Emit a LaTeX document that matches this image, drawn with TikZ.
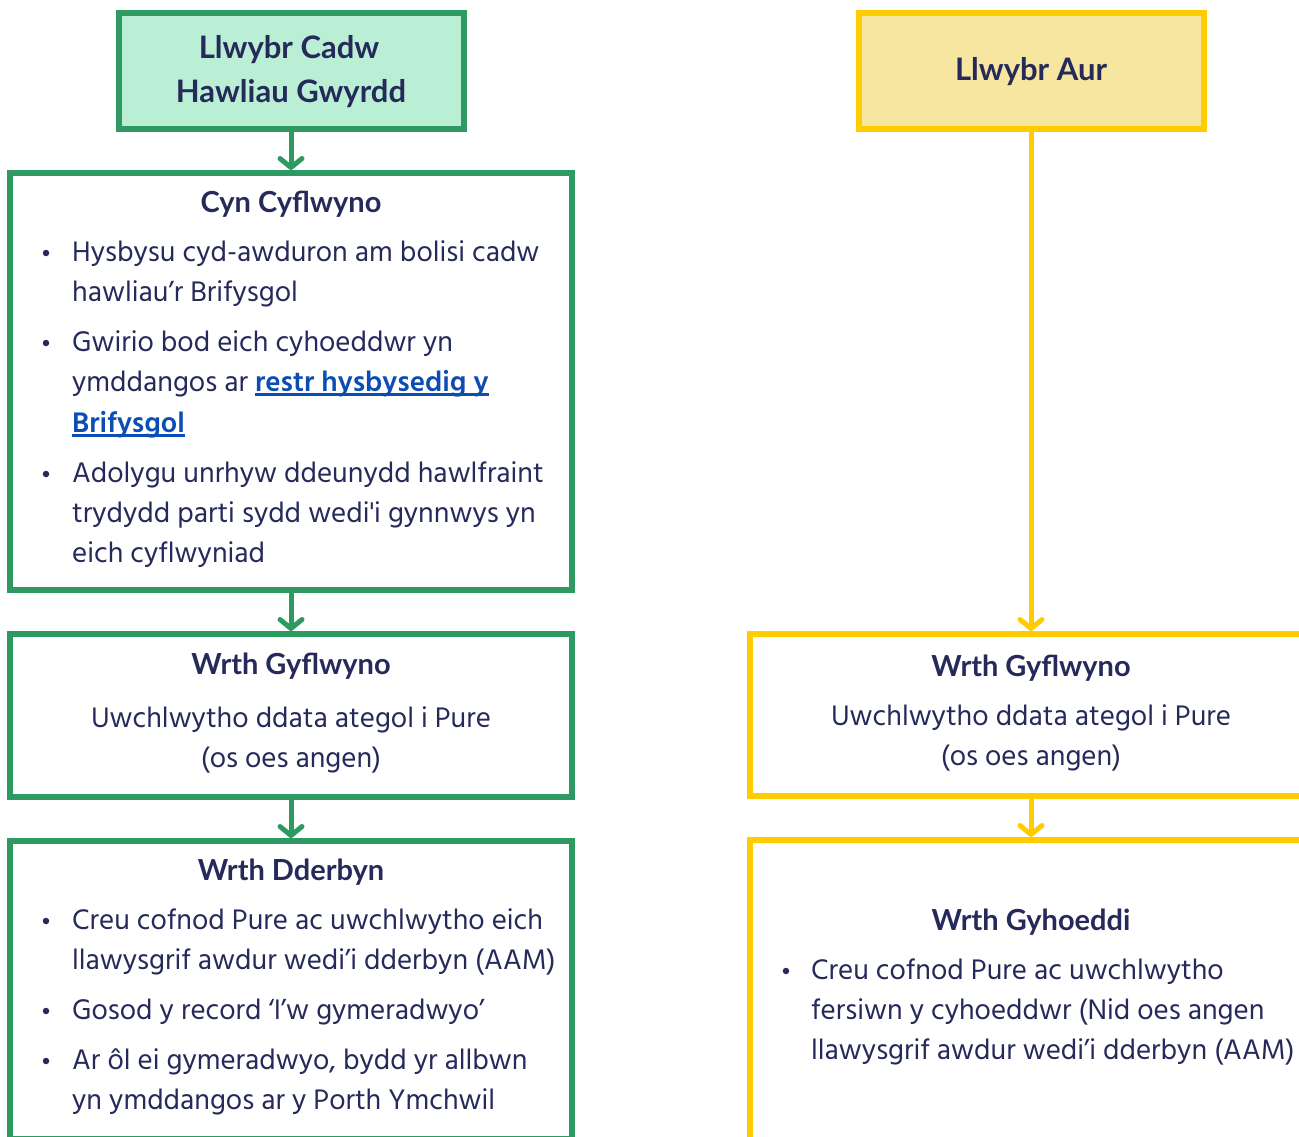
\documentclass[tikz,border=0pt]{standalone}
\usepackage{fontspec}
\newfontfamily\bodyfont{Hind Madurai}
\newfontfamily\headfont{Lato}
\usetikzlibrary{arrows.meta}
\definecolor{gborder}{HTML}{2E9960}
\definecolor{gfill}{HTML}{BAEFD5}
\definecolor{yborder}{HTML}{FFCC00}
\definecolor{yfill}{HTML}{F7E6A0}
\definecolor{navy}{HTML}{252A5A}
\definecolor{linkblue}{HTML}{0B4DB4}
\newcommand{\lnk}[1]{{\bfseries\color{linkblue}\setbox0\hbox{#1}\rlap{\rule[-5pt]{\wd0}{2.6pt}}\box0}}
\begin{document}
\begin{tikzpicture}[x=1pt,y=-1pt,
  gbox/.style={draw=gborder, line width=6pt, inner sep=0pt},
  ybox/.style={draw=yborder, line width=6pt, inner sep=0pt},
  body/.style={font=\bodyfont\fontsize{29}{32}\selectfont, text=navy, inner sep=0pt, text height=24pt, text depth=4pt},
  head/.style={font=\headfont\bfseries\fontsize{29}{32}\selectfont, text=navy, inner sep=0pt, text height=25pt, text depth=2pt},
  tophead/.style={font=\headfont\bfseries\fontsize{31}{34}\selectfont, text=navy, inner sep=0pt, text height=25pt, text depth=3pt},
  bul/.style={circle, fill=navy, inner sep=0pt, minimum size=6.5pt},
  garr/.style={draw=gborder, line width=5pt, -{Straight Barb[length=9pt, width=22pt, round]}},
  yarr/.style={draw=yborder, line width=5pt, -{Straight Barb[length=9pt, width=22pt, round]}}
]
\useasboundingbox (0,0) rectangle (1299,1136);
\clip (0,0) rectangle (1299,1136);

% ---------- green column ----------
\node[gbox, fill=gfill, minimum width=345pt, minimum height=116pt] (gtop) at (291,71) {};
\node[tophead] (gt1) at (289,47) {Llwybr Cadw};
\node[tophead] (gt2) at (291,91) {Hawliau Gwyrdd};

\node[gbox, fill=white, minimum width=562pt, minimum height=417pt] (cyn) at (291,381.5) {};
\node[head] (cynh) at (291,201) {Cyn Cyflwyno};
\node[bul] (cb1) at (46,253) {};
\node[bul] (cb2) at (46,343) {};
\node[bul] (cb3) at (46,474) {};
\node[body, anchor=west] (c1) at (72,251) {Hysbysu cyd-awduron am bolisi cadw};
\node[body, anchor=west] (c2) at (72,291) {hawliau’r Brifysgol};
\node[body, anchor=west] (c3) at (72,341) {Gwirio bod eich cyhoeddwr yn};
\node[body, anchor=west] (c4) at (72,381) {ymddangos ar \lnk{restr hysbysedig y}};
\node[body, anchor=west] (c5) at (72,422) {\lnk{Brifysgol}};
\node[body, anchor=west] (c6) at (72,472) {Adolygu unrhyw ddeunydd hawlfraint};
\node[body, anchor=west] (c7) at (72,512) {trydydd parti sydd wedi'i gynnwys yn};
\node[body, anchor=west] (c8) at (72,552) {eich cyflwyniad};

\node[gbox, fill=white, minimum width=562pt, minimum height=163pt] (gwrth) at (291,715.5) {};
\node[head] (gwh) at (291,663) {Wrth Gyflwyno};
\node[body] (gw1) at (291,717) {Uwchlwytho ddata ategol i Pure};
\node[body] (gw2) at (291,757) {(os oes angen)};

\node[gbox, fill=white, minimum width=562pt, minimum height=298pt] (dder) at (291,990) {};
\node[head] (ddh) at (291,869) {Wrth Dderbyn};
\node[bul] (db1) at (46,921) {};
\node[bul] (db2) at (46,1011) {};
\node[bul] (db3) at (46,1061) {};
\node[body, anchor=west] (d1) at (72,919) {Creu cofnod Pure ac uwchlwytho eich};
\node[body, anchor=west] (d2) at (72,959) {llawysgrif awdur wedi’i dderbyn (AAM)};
\node[body, anchor=west] (d3) at (72,1009) {Gosod y record ‘I’w gymeradwyo’};
\node[body, anchor=west] (d4) at (72,1059) {Ar ôl ei gymeradwyo, bydd yr allbwn};
\node[body, anchor=west] (d5) at (72,1099) {yn ymddangos ar y Porth Ymchwil};

\draw[garr] (gtop.south) -- (cyn.north);
\draw[garr] (cyn.south) -- (gwrth.north);
\draw[garr] (gwrth.south) -- (dder.north);

% ---------- yellow column ----------
\node[ybox, fill=yfill, minimum width=345pt, minimum height=116pt] (ytop) at (1031,71) {};
\node[tophead] (yt1) at (1031,69) {Llwybr Aur};

\node[ybox, fill=white, minimum width=562pt, minimum height=162pt] (ywrth) at (1031,715) {};
\node[head] (ywh) at (1031,665) {Wrth Gyflwyno};
\node[body] (yw1) at (1031,715) {Uwchlwytho ddata ategol i Pure};
\node[body] (yw2) at (1031,755) {(os oes angen)};

\node[ybox, fill=white, minimum width=562pt, minimum height=300pt] (ycyh) at (1031,990) {};
\node[head] (ych) at (1031,919) {Wrth Gyhoeddi};
\node[bul] (yb1) at (786,971) {};
\node[body, anchor=west] (y1) at (811,969) {Creu cofnod Pure ac uwchlwytho};
\node[body, anchor=west] (y2) at (811,1009) {fersiwn y cyhoeddwr (Nid oes angen};
\node[body, anchor=west] (y3) at (811,1049) {llawysgrif awdur wedi’i dderbyn (AAM)};

\draw[yarr] (ytop.south) -- (ywrth.north);
\draw[yarr] (ywrth.south) -- (ycyh.north);
\end{tikzpicture}
\end{document}
